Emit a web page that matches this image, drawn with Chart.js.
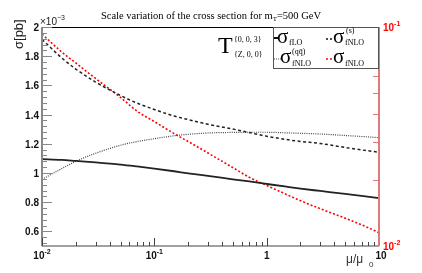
<!DOCTYPE html>
<html>
<head>
<meta charset="utf-8" />
<title>Scale variation</title>
<script src="https://cdn.jsdelivr.net/npm/chart.js@4.4.1/dist/chart.umd.min.js"></script>
<style>
  html, body { margin: 0; padding: 0; background: #fff; }
  canvas { display: block; }
</style>
</head>
<body>
<canvas id="scale_chart" width="422" height="273"></canvas>
<script>
// mu / mu_0 sample points
var mu = [0.01, 0.015, 0.02, 0.03, 0.05, 0.07, 0.1, 0.15, 0.2, 0.3, 0.5, 0.7, 1, 1.5, 2, 3, 5, 7, 10];
// left axis, in units of 1e-3 pb
var sigmaLO   = [1.095, 1.090, 1.083, 1.073, 1.058, 1.045, 1.030, 1.012, 0.998, 0.980, 0.957, 0.942, 0.925, 0.906, 0.893, 0.877, 0.857, 0.843, 0.828];
var sigmaNLOs = [1.915, 1.788, 1.712, 1.623, 1.531, 1.479, 1.435, 1.390, 1.366, 1.334, 1.301, 1.277, 1.252, 1.229, 1.216, 1.202, 1.175, 1.158, 1.142];
var sigmaNLOqq = [0.957, 1.030, 1.080, 1.135, 1.190, 1.215, 1.235, 1.255, 1.265, 1.274, 1.278, 1.279, 1.279, 1.275, 1.272, 1.267, 1.257, 1.250, 1.242];
// right (red, log) axis, pb
var sigmaNLO  = [0.0929, 0.0769, 0.0685, 0.0582, 0.0477, 0.0413, 0.0370, 0.0326, 0.0300, 0.0266, 0.0228, 0.0206, 0.0189, 0.0172, 0.0161, 0.0148, 0.0134, 0.0125, 0.0115];

var xTicks = [0.01, 0.1, 1, 10];
var xTickLabels = [['10', '-2'], ['10', '-1'], ['1', ''], ['10', '']];
var yTicks = [0.6, 0.8, 1, 1.2, 1.4, 1.6, 1.8, 2];
var yTickLabels = ['0.6', '0.8', '1', '1.2', '1.4', '1.6', '1.8', '2'];
var y2Ticks = [0.01, 0.1];
var y2TickLabels = [['10', '-2'], ['10', '-1']];

function pts(ys) {
	var out = [];
	for (var i = 0; i < mu.length; i++) out.push({x: mu[i], y: ys[i]});
	return out;
}

// text with a superscript part
function supText(ctx, base, sup, x, y, font, supFont, align) {
	ctx.font = font;
	var wb = ctx.measureText(base).width;
	ctx.font = supFont;
	var ws = sup ? ctx.measureText(sup).width : 0;
	var x0 = x;
	if (align === 'center') x0 = x - (wb + ws) / 2;
	if (align === 'right') x0 = x - wb - ws;
	ctx.textAlign = 'left';
	ctx.font = font;
	ctx.fillText(base, x0, y);
	if (sup) {
		ctx.font = supFont;
		ctx.fillText(sup, x0 + wb, y - 5);
	}
}

var rootFrame = {
	id: 'rootFrame',
	afterDatasetsDraw: function(chart) {
		var ctx = chart.ctx;
		var a = chart.chartArea;
		var xs = chart.scales.x, ys = chart.scales.y, y2 = chart.scales.y2;
		var tickFont = 'bold 10px "Liberation Sans", Arial, sans-serif';
		var supFont = 'bold 7px "Liberation Sans", Arial, sans-serif';
		ctx.save();
		ctx.textBaseline = 'alphabetic';

		// frame
		ctx.lineWidth = 1.2;
		ctx.strokeStyle = '#000';
		ctx.beginPath(); ctx.moveTo(a.left, a.top + 0.5); ctx.lineTo(a.right, a.top + 0.5); ctx.stroke();
		ctx.strokeStyle = '#444';
		ctx.beginPath(); ctx.moveTo(a.left, a.bottom); ctx.lineTo(a.right, a.bottom); ctx.stroke();
		ctx.lineWidth = 2;
		ctx.strokeStyle = '#888';
		ctx.beginPath(); ctx.moveTo(a.left, a.top); ctx.lineTo(a.left, a.bottom); ctx.stroke();

		// left ticks
		ctx.lineWidth = 1;
		ctx.strokeStyle = '#888';
		for (var k = 13; k <= 50; k++) {
			var py = Math.round(ys.getPixelForValue(k * 0.04)) + 0.5;
			var len = (k % 5 === 0) ? 10 : 5;
			ctx.beginPath(); ctx.moveTo(a.left, py); ctx.lineTo(a.left + len, py); ctx.stroke();
		}
		ctx.fillStyle = '#111';
		ctx.font = tickFont;
		ctx.textAlign = 'right';
		for (var i = 0; i < yTicks.length; i++) {
			ctx.fillText(yTickLabels[i], a.left - 3, ys.getPixelForValue(yTicks[i]) + 4);
		}

		// bottom ticks
		ctx.strokeStyle = '#444';
		for (var d = -2; d <= 0; d++) {
			for (var m = 1; m <= 9; m++) {
				var px = Math.round(xs.getPixelForValue(m * Math.pow(10, d))) + 0.5;
				var l2 = (m === 1) ? 8 : 4;
				ctx.beginPath(); ctx.moveTo(px, a.bottom); ctx.lineTo(px, a.bottom - l2); ctx.stroke();
			}
		}
		ctx.fillStyle = '#111';
		for (var j = 0; j < xTicks.length; j++) {
			var xp = xs.getPixelForValue(xTicks[j]);
			if (xTicks[j] === 10) xp += 2;
			supText(ctx, xTickLabels[j][0], xTickLabels[j][1], xp, a.bottom + 13, tickFont, supFont, 'center');
		}

		// right red axis
		ctx.strokeStyle = '#e07a7a';
		ctx.lineWidth = 2;
		ctx.beginPath(); ctx.moveTo(a.right, a.top); ctx.lineTo(a.right, a.bottom); ctx.stroke();
		ctx.lineWidth = 1;
		for (var r = 2; r <= 9; r++) {
			var ry = Math.round(y2.getPixelForValue(r * 0.01)) + 0.5;
			ctx.beginPath(); ctx.moveTo(a.right, ry); ctx.lineTo(a.right - 6, ry); ctx.stroke();
		}
		ctx.fillStyle = '#ff0000';
		for (var t = 0; t < y2Ticks.length; t++) {
			supText(ctx, y2TickLabels[t][0], y2TickLabels[t][1], a.right + 4, y2.getPixelForValue(y2Ticks[t]) + 4, tickFont, supFont, 'left');
		}

		// axis titles
		ctx.fillStyle = '#222';
		ctx.save();
		ctx.translate(23, 49);
		ctx.rotate(-Math.PI / 2);
		ctx.font = '13px "Liberation Sans", Arial, sans-serif';
		ctx.textAlign = 'left';
		ctx.fillText('σ[pb]', 0, 0);
		ctx.restore();
		supText(ctx, '×10', '−3', a.left - 2, 25, '10px "Liberation Sans", Arial, sans-serif', '7px "Liberation Sans", Arial, sans-serif', 'left');

		ctx.font = '12px "Liberation Sans", Arial, sans-serif';
		ctx.textAlign = 'left';
		ctx.fillStyle = '#333';
		ctx.fillText('μ/μ', 346, 263);
		ctx.font = '8px "Liberation Sans", Arial, sans-serif';
		ctx.fillText('0', 369, 267);

		// title
		ctx.fillStyle = '#000';
		var titleFont = '10.5px "Liberation Serif", "Times New Roman", serif';
		ctx.font = titleFont;
		var t1 = 'Scale variation of the cross section for m';
		var t2 = '=500 GeV';
		var w1 = ctx.measureText(t1).width, w2 = ctx.measureText(t2).width;
		ctx.font = '7px "Liberation Serif", serif';
		var wt = ctx.measureText('T').width;
		var tx = 211 - (w1 + wt + w2) / 2;
		ctx.font = titleFont;
		ctx.fillText(t1, tx, 19);
		ctx.font = '7px "Liberation Serif", serif';
		ctx.fillText('T', tx + w1, 21);
		ctx.font = titleFont;
		ctx.fillText(t2, tx + w1 + wt, 19);

		// T^{0,0,3}_{Z,0,0}
		ctx.font = '24px "Liberation Serif", serif';
		ctx.fillText('T', 218, 53);
		ctx.font = '8px "Liberation Serif", serif';
		ctx.fillText('{0, 0, 3}', 234, 42);
		ctx.fillText('{Z, 0, 0}', 234, 57);

		// legend box
		var lx = 273, ly = a.top, lw = a.right - 273, lh = 41;
		ctx.fillStyle = '#fff';
		ctx.fillRect(lx, ly, lw, lh);
		ctx.strokeStyle = '#555';
		ctx.lineWidth = 1;
		ctx.strokeRect(lx + 0.5, ly + 0.5, lw - 1, lh);

		function sample(x1, x2, y, color, width, dash) {
			ctx.save();
			ctx.strokeStyle = color; ctx.lineWidth = width; ctx.setLineDash(dash);
			ctx.beginPath(); ctx.moveTo(x1, y); ctx.lineTo(x2, y); ctx.stroke();
			ctx.restore();
		}
		sample(274, 279, 38, '#111', 2, []);
		sample(326, 334, 39, '#111', 1.5, [2, 2]);
		sample(274, 281, 59, '#555', 1, [1, 1]);
		sample(326, 334, 59, '#ff0000', 1.5, [2, 2]);

		var sig = '21px "Liberation Serif", serif';
		var sub = '8px "Liberation Serif", serif';
		var sup = '8px "Liberation Serif", serif';
		ctx.fillStyle = '#000';
		ctx.font = sig; ctx.fillText('σ', 277, 43);
		ctx.font = sub; ctx.fillText('fLO', 289, 45);
		ctx.font = sig; ctx.fillText('σ', 333, 43);
		ctx.font = sup; ctx.fillText('(s)', 346, 33);
		ctx.font = sub; ctx.fillText('fNLO', 345, 45);
		ctx.font = sig; ctx.fillText('σ', 280, 63);
		ctx.font = sup; ctx.fillText('(qq\u0304)', 292, 54);
		ctx.font = sub; ctx.fillText('fNLO', 292, 66);
		ctx.font = sig; ctx.fillText('σ', 333, 63);
		ctx.font = sub; ctx.fillText('fNLO', 345, 66);

		ctx.restore();
	}
};

var chart_data = {
	datasets: [
		{
			label: 'sigma fLO',
			data: pts(sigmaLO),
			borderColor: '#222',
			borderWidth: 1.8,
			yAxisID: 'y'
		},
		{
			label: 'sigma fNLO (s)',
			data: pts(sigmaNLOs),
			borderColor: '#222',
			borderWidth: 1.5,
			borderDash: [3, 2.5],
			yAxisID: 'y'
		},
		{
			label: 'sigma fNLO (qqbar)',
			data: pts(sigmaNLOqq),
			borderColor: '#444',
			borderWidth: 1.2,
			borderDash: [1, 1.2],
			yAxisID: 'y'
		},
		{
			label: 'sigma fNLO',
			data: pts(sigmaNLO),
			borderColor: '#ff0000',
			borderWidth: 1.6,
			borderDash: [2, 2],
			yAxisID: 'y2'
		}
	]
};

var chart = new Chart(document.getElementById('scale_chart'), {
	type: 'line',
	data: chart_data,
	options: {
		responsive: false,
		animation: false,
		devicePixelRatio: 1,
		layout: { padding: { left: 42, right: 43, top: 27, bottom: 27 } },
		elements: {
			point: { radius: 0 },
			line: { cubicInterpolationMode: 'monotone', fill: false }
		},
		plugins: { legend: { display: false }, tooltip: { enabled: false } },
		scales: {
			x: { type: 'logarithmic', min: 0.01, max: 10, display: false },
			y: { type: 'linear', min: 0.5, max: 2.0, display: false },
			y2: { type: 'logarithmic', min: 0.01, max: 0.1, display: false, position: 'right' }
		}
	},
	plugins: [rootFrame]
});
</script>
</body>
</html>
